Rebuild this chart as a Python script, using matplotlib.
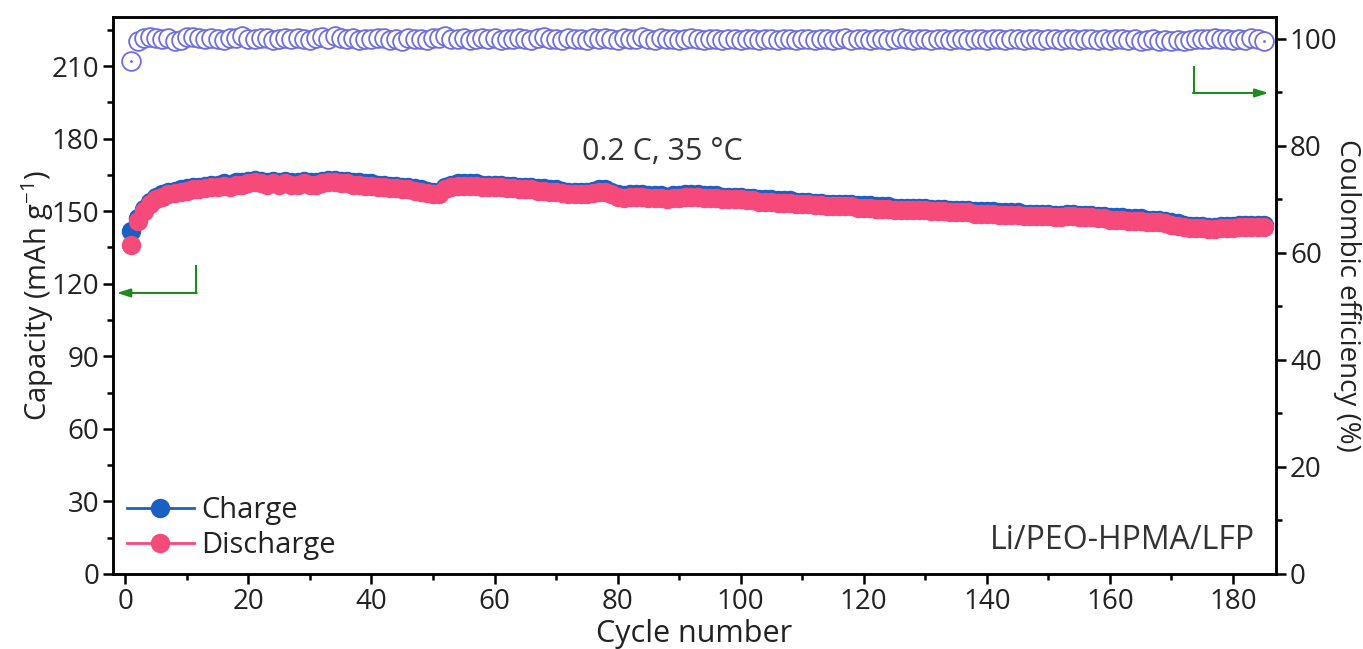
import matplotlib
matplotlib.use("Agg")
import matplotlib.pyplot as plt
from matplotlib.lines import Line2D
from matplotlib.ticker import MultipleLocator
import numpy as np

# ---------------- data ----------------
discharge = [
    136, 146, 150, 153, 155, 156, 157, 157.5, 158, 158.5,
    159, 159, 159.5, 160, 160, 160.5, 160, 161, 161, 161.5,
    162, 161.5, 161, 161.5, 161, 161.5, 161, 161, 161.5, 161,
    161, 161.5, 162, 162, 161.5, 161.5, 161, 161, 160.5, 160.5,
    160, 160, 159.5, 159.5, 159, 159, 158.5, 158, 157.5, 157,
    157, 159, 160, 160.5, 160.5, 160.5, 160.5, 160, 160, 160,
    160, 159.5, 159.5, 159, 159, 159, 158.5, 158.5, 158, 158,
    157.5, 157, 157, 157, 157, 157.5, 158, 158, 157, 156,
    155.5, 156, 156, 156, 155.5, 155.5, 155.5, 155, 155.5, 155.5,
    156, 156, 156, 155.5, 155.5, 155.5, 155, 155, 155, 155,
    154.5, 154.5, 154, 154, 154, 153.5, 153.5, 153.5, 153, 153,
    153, 152.5, 152.5, 152, 152, 152, 152, 152, 151.5, 151.5,
    151.5, 151, 151, 151, 150.5, 150.5, 150.5, 150.5, 150.5, 150.5,
    150, 150, 150, 149.5, 149.5, 149.5, 149.5, 149, 149, 149,
    149, 148.5, 148.5, 148.5, 148.5, 148, 148, 148, 148, 148,
    147.5, 147.5, 148, 148, 147.5, 147.5, 147.5, 147, 147, 146.5,
    146.5, 146.5, 146, 146, 146, 145.5, 145.5, 145.5, 145, 144.5,
    144, 143.5, 143, 143, 143, 142.5, 142.5, 143, 143, 143,
    143.5, 143.5, 143.5, 143.5, 143.5,
]
charge = [
    142, 147, 151, 154, 156, 157, 158, 158.5, 159, 159.5,
    160, 160, 160.5, 161, 161, 161.5, 161, 162, 162, 162.5,
    163, 162.5, 162, 162.5, 162, 162.5, 162, 162, 162.5, 162,
    162, 162.5, 163, 163, 162.5, 162.5, 162, 162, 161.5, 161.5,
    161, 161, 160.5, 160.5, 160, 160, 159.5, 159, 158.5, 158,
    158, 160, 161, 161.5, 161.5, 161.5, 161.5, 161, 161, 161,
    161, 160.5, 160.5, 160, 160, 160, 159.5, 159.5, 159, 159,
    158.5, 158, 158, 158, 158, 158.5, 159, 159, 158, 157,
    156.5, 157, 157, 157, 156.5, 156.5, 156.5, 156, 156.5, 156.5,
    157, 157, 157, 156.5, 156.5, 156.5, 156, 156, 156, 156,
    155.5, 155.5, 155, 155, 155, 154.5, 154.5, 154.5, 154, 154,
    154, 153.5, 153.5, 153, 153, 153, 153, 153, 152.5, 152.5,
    152.5, 152, 152, 152, 151.5, 151.5, 151.5, 151.5, 151.5, 151.5,
    151, 151, 151, 150.5, 150.5, 150.5, 150.5, 150, 150, 150,
    150, 149.5, 149.5, 149.5, 149.5, 149, 149, 149, 149, 149,
    148.5, 148.5, 149, 149, 148.5, 148.5, 148.5, 148, 148, 147.5,
    147.5, 147.5, 147, 147, 147, 146.5, 146.5, 146.5, 146, 145.5,
    145, 144.5, 144, 144, 144, 143.5, 143.5, 144, 144, 144,
    144.5, 144.5, 144.5, 144.5, 144.5,
]
efficiency = [
    95.8, 99.6, 100.2, 100.3, 100.1, 99.9, 100.2, 99.6, 99.8, 100.3,
    100.4, 100.1, 99.9, 100.2, 100.0, 99.8, 100.1, 100.2, 100.5, 100.0,
    99.9, 100.2, 100.1, 99.8, 100.0, 100.1, 99.9, 100.2, 100.0, 99.8,
    100.1, 100.3, 100.0, 100.6, 100.1, 99.9, 100.2, 99.8, 100.0, 99.9,
    100.1, 100.2, 99.8, 100.0, 99.7, 100.1, 99.9, 100.0, 99.8, 100.1,
    100.2, 100.5, 100.0, 99.9, 100.1, 99.8, 100.0, 100.2, 99.9, 100.1,
    99.8, 100.0, 99.9, 100.1, 100.0, 99.8, 100.2, 100.3, 99.9, 100.0,
    99.8, 100.1, 99.9, 100.0, 99.8, 100.2, 99.9, 100.1, 100.0, 99.8,
    100.1, 100.0, 99.9, 100.3, 100.0, 99.8, 100.1, 99.9, 100.0, 99.8,
    100.0, 100.1, 99.9, 99.8, 100.0, 99.9, 99.8, 100.0, 99.9, 99.8,
    100.0, 99.9, 99.8, 100.0, 99.9, 99.8, 99.9, 100.0, 99.8, 99.9,
    100.0, 99.8, 99.9, 100.0, 99.8, 99.9, 100.1, 99.8, 99.9, 100.0,
    99.8, 99.9, 100.0, 99.8, 99.9, 100.1, 99.9, 99.8, 100.0, 99.9,
    99.8, 100.0, 99.9, 99.8, 100.0, 99.9, 99.8, 100.0, 99.9, 99.8,
    100.0, 99.9, 99.8, 100.0, 99.9, 99.8, 100.0, 99.9, 99.8, 99.9,
    100.0, 99.8, 99.9, 100.0, 99.8, 99.9, 100.0, 99.8, 99.9, 99.8,
    99.9, 100.0, 99.8, 99.9, 99.7, 99.8, 99.9, 99.7, 99.8, 99.6,
    99.8, 99.7, 99.8, 99.9, 100.0, 99.9, 100.1, 99.9, 100.0, 99.8,
    100.0, 99.8, 100.2, 99.9, 99.6,
]
cycles = list(range(1, len(discharge) + 1))

x_ticks = list(range(0, 181, 20))
left_ticks = list(range(0, 211, 30))
right_ticks = list(range(0, 101, 20))

# ---------------- style ----------------
plt.rcParams['font.family'] = ['Open Sans', 'DejaVu Sans']
TXT = '#222222'
BLUE = '#1a5fc4'
PINK = '#f64a7b'
CE_COL = '#6e6ee0'
GREEN = '#1e8a1e'

fig = plt.figure(figsize=(13.63, 6.49), dpi=100)
ax1 = fig.add_axes([0.0829, 0.1156, 0.8533, 0.8582])
ax2 = ax1.twinx()

ax1.plot(cycles, charge, 'o', color=BLUE, ms=14, mec='none', zorder=3)
ax1.plot(cycles, discharge, 'o', color=PINK, ms=14, mec='none', zorder=4)
ax2.plot(cycles, efficiency, 'o', mfc='white', mec=CE_COL, mew=1.3, ms=13.5,
         ls='none', zorder=3)
ax2.plot([cycles[0], cycles[-1]], [efficiency[0], efficiency[-1]], '.',
         color=CE_COL, ms=2, zorder=4)

ax1.set_xlim(-2, 187)
ax1.set_ylim(0, 230.3)
ax2.set_ylim(0, 104.1)

ax1.set_xticks(x_ticks)
ax1.set_yticks(left_ticks)
ax2.set_yticks(right_ticks)
ax1.xaxis.set_minor_locator(MultipleLocator(10))
ax1.yaxis.set_minor_locator(MultipleLocator(15))
ax2.yaxis.set_minor_locator(MultipleLocator(10))

for ax in (ax1, ax2):
    for sp in ax.spines.values():
        sp.set_linewidth(1.8)
    ax.tick_params(which='major', direction='out', length=7, width=1.8,
                   labelsize=20, colors='black', labelcolor=TXT, pad=3)
    ax.tick_params(which='minor', direction='out', length=4.5, width=1.8,
                   colors='black')
ax2.tick_params(axis='y', which='both', right=True)

ax1.set_xlabel('Cycle number', fontsize=22, color=TXT, labelpad=2)
ax1.set_ylabel(r'Capacity (mAh g$^{\mathregular{-1}}$)', fontsize=21,
               color=TXT, va='center')
ax1.yaxis.set_label_coords(-0.065, 0.5)
ax2.set_ylabel('Coulombic efficiency (%)', fontsize=20, color=TXT,
               rotation=270, va='center', ha='center')
ax2.yaxis.set_label_coords(1.061, 0.5)

ax1.text(0.472, 0.758, '0.2 C, 35 °C', transform=ax1.transAxes, fontsize=22,
         color='#333333', ha='center', va='center')
ax1.text(0.982, 0.061, 'Li/PEO-HPMA/LFP', transform=ax1.transAxes,
         fontsize=23, color='#333333', ha='right', va='center')

handles = [Line2D([], [], color=BLUE, lw=2, marker='o', ms=14, mec='none'),
           Line2D([], [], color=PINK, lw=2, marker='o', ms=14, mec='none')]
ax1.legend(handles, ['Charge', 'Discharge'], loc='lower left',
           bbox_to_anchor=(0.012, 0.025), frameon=False, fontsize=21,
           handlelength=2.3, handletextpad=0.25, labelspacing=0.2,
           borderpad=0, borderaxespad=0, labelcolor=TXT)

# green axis-indicator arrows
ax1.plot([11.5, 11.5], [127.3, 116.2], color=GREEN, lw=1.5, zorder=5)
ax1.annotate('', xy=(-1.4, 116.2), xytext=(11.6, 116.2),
             arrowprops=dict(arrowstyle='-|>,head_length=0.8,head_width=0.25',
                             color=GREEN, lw=1.5, shrinkA=0, shrinkB=0))
ax2.plot([173.6, 173.6], [94.8, 89.9], color=GREEN, lw=1.5, zorder=5)
ax2.annotate('', xy=(185.8, 89.9), xytext=(173.5, 89.9),
             arrowprops=dict(arrowstyle='-|>,head_length=0.8,head_width=0.25',
                             color=GREEN, lw=1.5, shrinkA=0, shrinkB=0))

fig.savefig('out.png', dpi=100)
